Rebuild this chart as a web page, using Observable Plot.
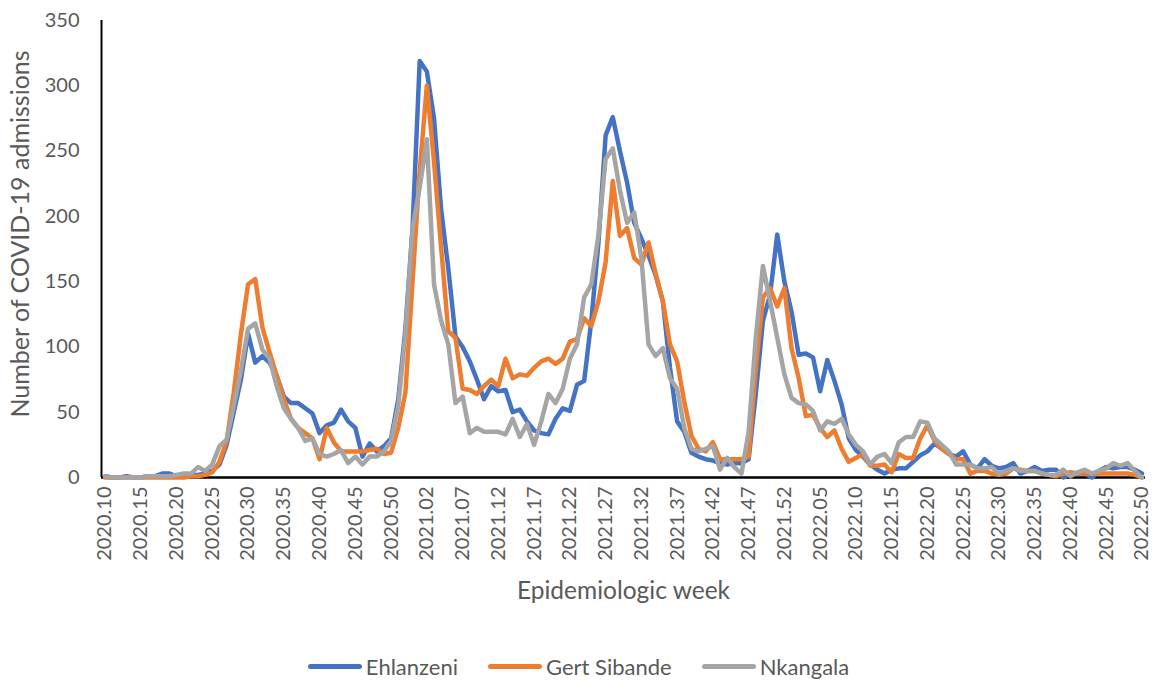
<!DOCTYPE html>
<html>
<head>
<meta charset="utf-8">
<script src="https://cdn.jsdelivr.net/npm/d3@7"></script>
<script src="https://cdn.jsdelivr.net/npm/@observablehq/plot@0.6"></script>
<style>
  html, body { margin: 0; padding: 0; background: #ffffff; }
  body { width: 1157px; height: 681px; position: relative; overflow: hidden; font-family: Lato, "Open Sans", sans-serif; }
  #chart { position: absolute; left: 0; top: 0; }
  #legend { position: absolute; left: 0; top: 652px; width: 1157px; height: 28px;
            display: flex; align-items: center; justify-content: center;
            font-family: Lato, sans-serif; font-size: 22px; color: #595959; }
  .item { display: flex; align-items: center; margin: 0 15px; }
  .swatch { width: 54px; height: 5px; border-radius: 3px; margin-right: 4px; }
</style>
</head>
<body>
<div id="chart"></div>
<div id="legend"></div>
<script>
// ---- Categories: epidemiologic weeks (year.week) ----
const weekYears = [2020, 2021, 2022];
const weekFirst = [10, 1, 1];
const weekLast = [53, 52, 50];
const weeks = [];
weekYears.forEach((y, k) => {
  for (let w = weekFirst[k]; w <= weekLast[k]; w++) weeks.push(`${y}.${String(w).padStart(2, "0")}`);
});

// ---- Series ----
const seriesNames = ["Ehlanzeni", "Gert Sibande", "Nkangala"];
const seriesColors = ["#4472C4", "#ED7D31", "#A5A5A5"];

const ehlanzeni = [
  1, 0, 0, 1, 0, 0, 1, 1, 3, 3,
  1, 1, 2, 2, 3, 5, 10, 25, 50, 75,
  110, 88, 93, 88, 78, 62, 57, 57, 53, 49,
  34, 40, 42, 52, 43, 38, 16, 26, 20, 24,
  30, 60, 114, 191, 319, 311, 275, 205, 160, 108,
  100, 89, 75, 60, 70, 66, 67, 50, 52, 43,
  36, 34, 33, 45, 53, 51, 71, 74, 120, 180,
  262, 276, 250, 226, 195, 183, 170, 155, 135, 84,
  43, 35, 19, 16, 14, 13, 11, 10, 11, 11,
  14, 64, 120, 140, 186, 150, 127, 94, 95, 92,
  66, 90, 74, 56, 30, 21, 16, 10, 6, 3,
  6, 7, 7, 12, 17, 20, 26, 22, 18, 16,
  20, 10, 7, 14, 9, 7, 8, 11, 3, 5,
  8, 5, 6, 6, 0, 3, 3, 3, 0, 5,
  8, 7, 8, 8, 6, 3
];
const gertSibande = [
  0, 0, 0, 0, 0, 0, 0, 0, 0, 0,
  0, 0, 1, 1, 2, 4, 12, 28, 65, 110,
  148, 152, 115, 96, 78, 60, 45, 38, 34, 30,
  14, 38, 27, 20, 20, 20, 20, 21, 22, 18,
  19, 38, 65, 150, 235, 300, 242, 176, 112, 107,
  68, 67, 64, 70, 75, 70, 91, 76, 79, 78,
  84, 89, 91, 87, 91, 104, 106, 122, 116, 135,
  165, 227, 185, 191, 168, 163, 180, 156, 135, 102,
  89, 58, 32, 22, 20, 27, 14, 14, 14, 14,
  16, 84, 138, 145, 131, 145, 99, 76, 47, 48,
  38, 31, 36, 22, 12, 15, 18, 9, 9, 10,
  4, 18, 15, 15, 30, 40, 28, 22, 18, 14,
  14, 3, 5, 5, 3, 2, 3, 7, 6, 5,
  5, 3, 2, 1, 3, 4, 3, 3, 3, 3,
  3, 3, 3, 3, 2, 0
];
const nkangala = [
  1, 0, 0, 0, 0, 0, 1, 1, 1, 1,
  2, 3, 3, 8, 5, 10, 24, 29, 55, 82,
  114, 118, 98, 91, 70, 53, 45, 38, 28, 30,
  18, 16, 18, 21, 11, 16, 10, 16, 16, 20,
  28, 55, 110, 191, 222, 259, 148, 120, 102, 57,
  62, 34, 38, 35, 35, 35, 33, 45, 31, 41,
  25, 43, 64, 57, 68, 91, 102, 138, 148, 186,
  244, 252, 220, 195, 203, 168, 102, 93, 99, 76,
  68, 38, 22, 20, 22, 24, 6, 15, 8, 3,
  35, 107, 162, 135, 107, 79, 61, 57, 56, 51,
  36, 43, 41, 45, 33, 25, 20, 10, 16, 18,
  11, 27, 31, 31, 43, 42, 30, 25, 20, 10,
  10, 10, 7, 7, 8, 3, 5, 7, 5, 5,
  5, 3, 2, 2, 6, 1, 4, 6, 3, 5,
  7, 11, 9, 11, 5, 0
];
const seriesValues = [ehlanzeni, gertSibande, nkangala];

const yTicks = [0, 50, 100, 150, 200, 250, 300, 350];
const xTickIndex = weeks.map((_, i) => i).filter(i => i % 5 === 0);

const yTitle = "Number of COVID-19 admissions";
const xTitle = "Epidemiologic week";

// long table
const rows = [];
seriesNames.forEach((name, s) => {
  seriesValues[s].forEach((v, i) => rows.push({series: name, idx: i, week: weeks[i], value: v}));
});

const textColor = "#595959";

const chart = Plot.plot({
  width: 1157,
  height: 630,
  marginLeft: 101,
  marginRight: 12,
  marginTop: 20,
  marginBottom: 153,
  style: {fontFamily: "Lato, sans-serif", color: textColor, background: "#ffffff"},
  x: {type: "linear", domain: [-0.5, weeks.length - 0.5]},
  y: {domain: [0, 350]},
  color: {domain: seriesNames, range: seriesColors},
  marks: [
    Plot.axisY({ticks: yTicks, tickSize: 0, tickPadding: 22, fontSize: 20, label: null, fill: textColor}),
    Plot.axisX({ticks: xTickIndex, tickFormat: i => weeks[i], tickRotate: -90, tickSize: 0, tickPadding: 9, fontSize: 20, label: null, fill: textColor}),
    Plot.ruleX([-0.5], {stroke: "#000", strokeWidth: 2}),
    Plot.ruleY([0], {stroke: "#000", strokeWidth: 2.5}),
    Plot.line(rows, {x: "idx", y: "value", z: "series", stroke: "series", strokeWidth: 4.5, strokeLinejoin: "round", strokeLinecap: "round"}),
    Plot.text([yTitle], {frameAnchor: "left", dx: -81, dy: -15, rotate: -90, textAnchor: "middle", fontSize: 25, fill: textColor}),
    Plot.text([xTitle], {frameAnchor: "bottom", dy: 121, textAnchor: "middle", fontSize: 24.5, fill: textColor})
  ]
});
document.getElementById("chart").appendChild(chart);

// legend
const legend = document.getElementById("legend");
seriesNames.forEach((name, s) => {
  const item = document.createElement("div");
  item.className = "item";
  const sw = document.createElement("span");
  sw.className = "swatch";
  sw.style.background = seriesColors[s];
  const label = document.createElement("span");
  label.textContent = name;
  item.appendChild(sw);
  item.appendChild(label);
  legend.appendChild(item);
});
</script>
</body>
</html>
